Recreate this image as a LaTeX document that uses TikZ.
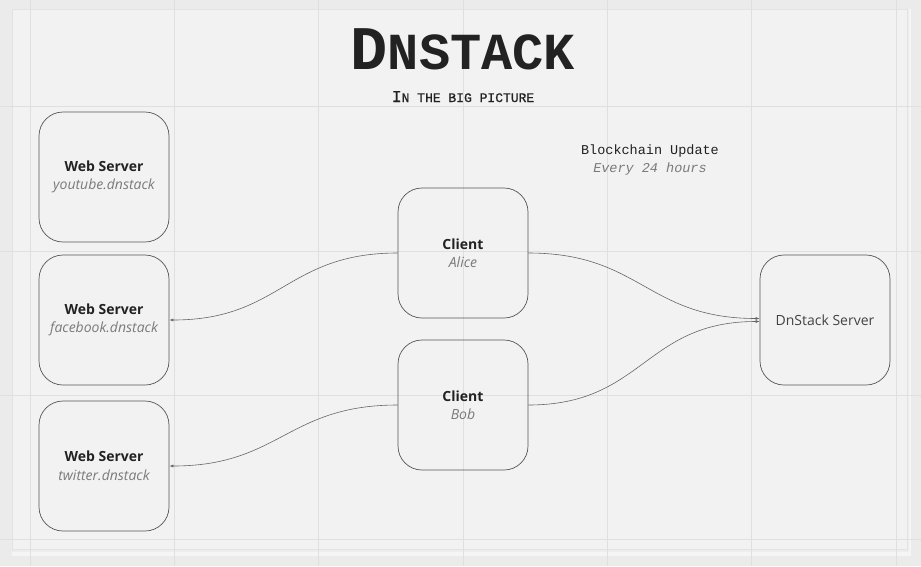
\documentclass[tikz,border=0pt]{standalone}
\usepackage{fontspec}
\setmainfont{Open Sans}
\setmonofont{Liberation Mono}
\newfontfamily\subtitlefont[AutoFakeBold=0.8]{Liberation Mono}
\usetikzlibrary{arrows.meta}
\usetikzlibrary{positioning}

\definecolor{paper}{HTML}{EBEBEB}
\definecolor{panel}{HTML}{F2F2F2}
\definecolor{gridline}{HTML}{DFDFDF}
\definecolor{edge}{HTML}{555555}
\definecolor{subtext}{HTML}{7A7A7A}
\definecolor{ink}{HTML}{222222}

\tikzset{
  box/.style={rectangle,draw=edge,line width=0.7pt,rounded corners=24pt,
    minimum width=130pt,minimum height=130pt,inner sep=0pt,align=center,
    text=ink,font=\fontsize{14}{18.5}\selectfont},
  link/.style={->,draw=edge!90,line width=0.6pt,looseness=1.2},
  >={Latex[length=4pt,width=3pt]}
}
\newcommand{\subline}[1]{\textcolor{subtext}{\itshape #1}}

\begin{document}
\begin{tikzpicture}[x=1pt,y=-1pt]
        \fill[paper] (0,0) rectangle (921,566);
        \useasboundingbox (0,0) rectangle (921,566);

        % panel with its shadow
        \fill[black!4] (12,9) rectangle (911,556);
        \fill[black!7] (12,9) rectangle (909,552);
        \fill[black!11] (12,9) rectangle (908,550);
        \fill[panel] (13,10) rectangle (907,549);

        % grid
        \foreach \gx in {0,...,6}
          \draw[gridline,line width=0.6pt] ({30+144.3*\gx},0) -- ({30+144.3*\gx},566);
        \foreach \gy in {0,...,3}
          \draw[gridline,line width=0.6pt] (0,{106.7+144.3*\gy}) -- (921,{106.7+144.3*\gy});

        % headings
        \node[anchor=base,text=ink] (title) at (463,69)
          {\ttfamily\bfseries\fontsize{62}{62}\selectfont D\fontsize{52}{52}\selectfont NSTACK};
        \node[anchor=base,text=ink] (subtitle) at (463,102)
          {\subtitlefont\bfseries\fontsize{16.5}{16.5}\selectfont I\fontsize{13}{13}\selectfont N THE BIG PICTURE};
        \node[align=center,text=ink,font=\ttfamily\fontsize{13.5}{17.5}\selectfont] (update) at (650,160)
          {Blockchain Update\\\subline{Every 24 hours}};

        % boxes
        \node[box] at (104,177) (youtube) {\textbf{Web Server}\\\subline{youtube.dnstack}};
        \node[box] at (104,320) (facebook) {\textbf{Web Server}\\\subline{facebook.dnstack}};
        \node[box] at (104,466) (twitter) {\textbf{Web Server}\\\subline{twitter.dnstack}};
        \node[box] at (463,253) (alice) {\textbf{Client}\\\subline{Alice}};
        \node[box] at (463,405) (bob) {\textbf{Client}\\\subline{Bob}};
        \node[box,text=ink!85] at (825,320) (server) {DnStack Server};

        % links
        \draw[link] (alice.west) to[out=180,in=0] (facebook.east);
        \draw[link] (bob.west)   to[out=180,in=0] (twitter.east);
        \draw[link] (alice.east) to[out=0,in=180] ([yshift=1.5pt]server.west);
        \draw[link] (bob.east)   to[out=0,in=180] ([yshift=-1.5pt]server.west);
    \end{tikzpicture}
\end{document}
